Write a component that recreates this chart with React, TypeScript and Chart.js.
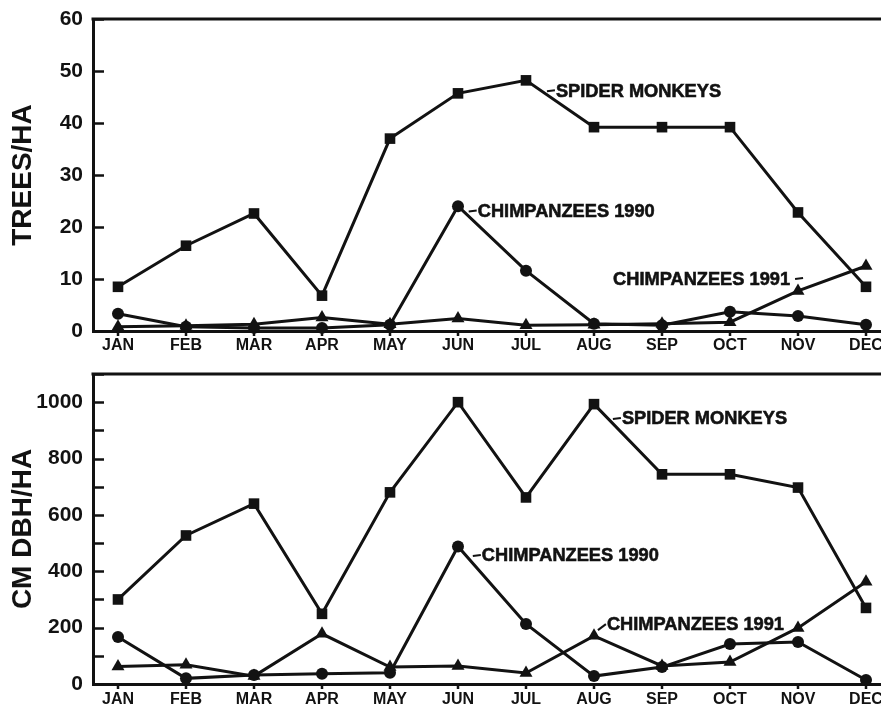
import React, { useEffect, useRef } from 'react';
import { Chart, registerables } from 'chart.js';

Chart.register(...registerables);

const INK = '#121212';
const FONT = '"Liberation Sans", Arial, sans-serif';

const MONTHS = ['JAN', 'FEB', 'MAR', 'APR', 'MAY', 'JUN', 'JUL', 'AUG', 'SEP', 'OCT', 'NOV', 'DEC'];

// Top panel: TREES/HA
const TREES_SPIDER = [8.5, 16.4, 22.6, 6.8, 37.0, 45.7, 48.2, 39.2, 39.2, 39.2, 22.8, 8.5];
const TREES_CHIMP90 = [3.3, 0.8, 0.6, 0.6, 1.2, 24.0, 11.6, 1.4, 1.1, 3.7, 2.9, 1.2];
const TREES_CHIMP91 = [0.8, 1.0, 1.3, 2.6, 1.3, 2.4, 1.1, 1.2, 1.4, 1.7, 7.7, 12.5];
const TREES_MAX = 60;
const TREES_STEP = 10;

// Bottom panel: CM DBH/HA
const DBH_SPIDER = [300, 527, 640, 249, 680, 1000, 662, 993, 744, 744, 697, 270];
const DBH_CHIMP90 = [167, 20, 32, 36, 40, 488, 213, 28, 60, 142, 149, 14];
const DBH_CHIMP91 = [62, 68, 28, 178, 60, 64, 39, 171, 64, 78, 199, 363];
const DBH_MAX = 1100;
const DBH_STEP = 100;
const DBH_LABEL_EVERY = 200;

const SERIES_NAMES = ['SPIDER MONKEYS', 'CHIMPANZEES 1990', 'CHIMPANZEES 1991'];

const W = 881;

const framePlugin = {
  id: 'frame',
  afterDraw(chart: any, _args: any, opts: any) {
    const { ctx, chartArea: a, scales } = chart;
    const x = scales.x;
    const y = scales.y;
    ctx.save();
    ctx.strokeStyle = INK;
    ctx.lineCap = 'butt';
    // top frame line
    ctx.lineWidth = 3;
    ctx.beginPath();
    ctx.moveTo(a.left - 1.5, a.top);
    ctx.lineTo(chart.width, a.top);
    ctx.stroke();
    // inward y ticks, downward x ticks
    ctx.lineWidth = 2.5;
    ctx.beginPath();
    y.ticks.forEach((t: any) => {
      const py = Math.round(y.getPixelForValue(t.value)) + 0.5;
      ctx.moveTo(a.left, py);
      ctx.lineTo(a.left + 11, py);
    });
    x.ticks.forEach((t: any) => {
      const px = Math.round(x.getPixelForValue(t.value));
      ctx.moveTo(px, a.bottom);
      ctx.lineTo(px, a.bottom + 5);
    });
    ctx.stroke();

    // series annotations
    const notes = (opts && opts.notes) || [];
    ctx.fillStyle = INK;
    ctx.strokeStyle = INK;
    ctx.font = `bold 19px ${FONT}`;
    ctx.textBaseline = 'middle';
    ctx.textAlign = 'left';
    const sx = 0.96;
    notes.forEach((n: any) => {
      const px = x.getPixelForValue(n.x);
      const py = y.getPixelForValue(n.y);
      const tw = ctx.measureText(n.text).width * sx;
      ctx.save();
      ctx.translate(px, py);
      ctx.scale(sx, 1);
      ctx.lineWidth = 0.6;
      ctx.fillText(n.text, 0, 0);
      ctx.strokeText(n.text, 0, 0);
      ctx.restore();
      ctx.lineWidth = 2;
      ctx.beginPath();
      if (n.dash === 'lead') {
        ctx.moveTo(px - 9, py + (n.slant || 0));
        ctx.lineTo(px - 1, py - 1);
      } else if (n.dash === 'trail') {
        ctx.moveTo(px + tw + 5, py - 1);
        ctx.lineTo(px + tw + 13, py - 2);
      }
      ctx.stroke();
    });
    ctx.restore();
  },
};

function makeConfig(
  values: number[][],
  maxY: number,
  step: number,
  title: string,
  labelEvery: number,
  padTop: number,
  xAxisHeight: number,
  labelPad: number,
  notes: any[]
) {
  const styles = [
    { pointStyle: 'rect', pointRadius: 7.5 },
    { pointStyle: 'circle', pointRadius: 6 },
    { pointStyle: 'triangle', pointRadius: 7.5 },
  ];
  return {
    type: 'line',
    data: {
      datasets: values.map((vals, k) => ({
        label: SERIES_NAMES[k],
        data: MONTHS.map((_, i) => ({ x: i, y: vals[i] })),
        borderColor: INK,
        backgroundColor: INK,
        borderWidth: 3,
        pointStyle: styles[k].pointStyle,
        pointRadius: styles[k].pointRadius,
        pointBackgroundColor: INK,
        pointBorderColor: INK,
        pointBorderWidth: 0,
        tension: 0,
        clip: false,
      })),
    },
    options: {
      animation: false,
      responsive: false,
      devicePixelRatio: 1,
      events: [],
      layout: { autoPadding: false, padding: { top: padTop, left: 0, right: 0, bottom: 0 } },
      plugins: {
        legend: { display: false },
        tooltip: { enabled: false },
        frame: { notes },
      },
      scales: {
        x: {
          type: 'linear',
          min: -0.3676,
          max: (W - 118) / 68,
          afterBuildTicks: (scale: any) => {
            scale.ticks = MONTHS.map((_, i) => ({ value: i }));
          },
          afterFit: (scale: any) => {
            scale.height = xAxisHeight;
            scale.paddingLeft = 0;
            scale.paddingRight = 0;
          },
          grid: { display: false, drawTicks: false },
          border: { display: true, width: 3, color: INK },
          ticks: {
            autoSkip: false,
            maxRotation: 0,
            padding: labelPad,
            color: INK,
            font: { family: FONT, size: 16, weight: 'bold' },
            callback: (v: number) => MONTHS[Math.round(v)] ?? '',
          },
        },
        y: {
          type: 'linear',
          min: 0,
          max: maxY,
          afterFit: (scale: any) => {
            scale.width = 93;
            scale.paddingTop = 0;
            scale.paddingBottom = 0;
          },
          grid: { display: false, drawTicks: false },
          border: { display: true, width: 3, color: INK },
          ticks: {
            stepSize: step,
            autoSkip: false,
            padding: 10,
            color: INK,
            font: { family: FONT, size: 21, weight: 'bold' },
            callback: (v: number) => (v % labelEvery === 0 ? String(v) : ''),
          },
          title: {
            display: true,
            text: title,
            color: INK,
            font: { family: FONT, size: 28, weight: 'bold' },
            padding: { top: 6, bottom: 0 },
          },
        },
      },
    },
    plugins: [framePlugin],
  };
}

export default function App() {
  const topRef = useRef<HTMLCanvasElement>(null);
  const botRef = useRef<HTMLCanvasElement>(null);

  useEffect(() => {
    const top = new Chart(
      topRef.current as any,
      makeConfig(
        [TREES_SPIDER, TREES_CHIMP90, TREES_CHIMP91],
        TREES_MAX,
        TREES_STEP,
        'TREES/HA',
        TREES_STEP,
        19,
        21,
        5,
        [
          { text: SERIES_NAMES[0], x: 6.44, y: 46.1, dash: 'lead' },
          { text: SERIES_NAMES[1], x: 5.29, y: 23.0, dash: 'lead' },
          { text: SERIES_NAMES[2], x: 7.28, y: 9.8, dash: 'trail' },
        ]
      ) as any
    );
    const bot = new Chart(
      botRef.current as any,
      makeConfig(
        [DBH_SPIDER, DBH_CHIMP90, DBH_CHIMP91],
        DBH_MAX,
        DBH_STEP,
        'CM DBH/HA',
        DBH_LABEL_EVERY,
        22,
        22,
        6,
        [
          { text: SERIES_NAMES[0], x: 7.41, y: 940, dash: 'lead' },
          { text: SERIES_NAMES[1], x: 5.35, y: 454, dash: 'lead' },
          { text: SERIES_NAMES[2], x: 7.19, y: 209, dash: 'lead', slant: 5 },
        ]
      ) as any
    );
    return () => {
      top.destroy();
      bot.destroy();
    };
  }, []);

  return (
    <div
      style={{
        position: 'fixed',
        left: 0,
        top: 0,
        width: W,
        height: 706,
        background: '#fff',
        overflow: 'hidden',
      }}
    >
      <canvas
        ref={topRef}
        width={W}
        height={352}
        style={{ position: 'absolute', left: 0, top: 0, width: W, height: 352 }}
      />
      <canvas
        ref={botRef}
        width={W}
        height={354}
        style={{ position: 'absolute', left: 0, top: 352, width: W, height: 354 }}
      />
    </div>
  );
}
